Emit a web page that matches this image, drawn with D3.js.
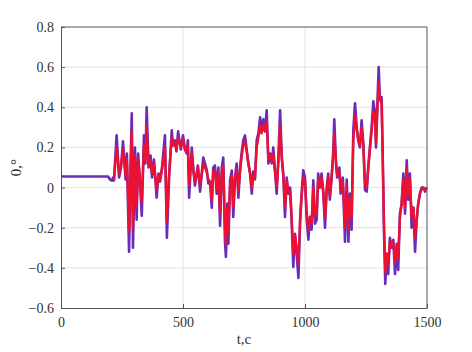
<!DOCTYPE html>
<html><head><meta charset="utf-8">
<script src="https://cdn.jsdelivr.net/npm/d3@7"></script>
<style>
html,body{margin:0;padding:0;background:#fff;}
svg text{font-family:"Liberation Serif","Times New Roman",serif;}
</style></head>
<body><svg id="c" width="472" height="352"></svg>
<script>
const xTicks = [0, 500, 1000, 1500];
const yTicks = [-0.6, -0.4, -0.2, 0, 0.2, 0.4, 0.6, 0.8];
const tVals = [0,193,201,209,213,217,228,238,246,254,265,270,279,285,290,295,303,310,316,324,331,340,346,351,359,367,373,381,392,400,406,414,426,434,443,454,459,467,473,480,491,500,508,515,520,525,536,543,549,561,570,583,597,604,611,618,624,631,638,645,652,659,665,672,676,682,686,693,700,706,713,720,727,734,740,747,754,761,768,775,782,788,795,802,809,816,822,829,836,843,850,857,864,870,877,884,891,898,905,911,918,925,932,939,945,952,959,966,973,980,986,993,1000,1007,1014,1020,1027,1034,1041,1048,1054,1061,1068,1075,1082,1089,1095,1102,1109,1116,1120,1127,1132,1141,1146,1155,1164,1171,1178,1184,1191,1198,1205,1212,1218,1225,1232,1239,1246,1253,1259,1266,1273,1280,1287,1291,1296,1302,1307,1314,1318,1324,1329,1335,1341,1348,1355,1362,1369,1376,1382,1389,1396,1403,1410,1417,1423,1430,1437,1444,1451,1458,1464,1471,1478,1485,1492,1499];
const purpleVals = [0.055,0.055,0.04,0.035,0.05,0.035,0.26,0.05,0.10,0.23,0.04,0.17,-0.32,0.10,0.37,-0.30,0.20,-0.16,0.17,0.02,-0.14,0.26,0.12,0.40,0.10,0.16,0.05,0.14,-0.05,0.07,0.03,0.10,0.26,-0.25,0.05,0.285,0.21,0.235,0.18,0.28,0.19,0.26,0.19,0.17,0.235,-0.05,0.20,0.08,0.01,0.11,-0.02,0.15,0.09,0.02,0.03,-0.10,0.10,0.11,-0.03,0.10,-0.19,0.10,0.15,-0.27,-0.345,-0.08,-0.28,0.036,0.085,-0.146,0.05,0.12,-0.05,0.10,0.17,0.235,0.26,0.19,0.12,0.07,-0.03,0.08,0.04,0.235,0.27,0.35,0.28,0.34,0.28,0.385,0.12,0.17,0.12,0.20,0.085,-0.03,0.15,0.385,0.15,0.07,-0.146,0.05,-0.03,0.0,-0.16,-0.395,-0.23,-0.33,-0.45,-0.16,-0.03,0.086,0.05,-0.16,-0.26,-0.146,-0.21,0.036,-0.18,-0.16,0.07,0.0,0.07,-0.03,-0.20,0.0,0.07,-0.06,0.05,0.185,0.34,0.12,0.05,0.10,-0.03,0.05,-0.27,0.04,-0.27,-0.03,-0.21,0.285,0.42,0.30,0.235,0.20,0.335,0.22,-0.013,-0.02,0.10,0.20,0.30,0.43,0.37,0.20,0.39,0.60,0.44,0.45,0.195,-0.23,-0.48,-0.33,-0.43,-0.25,-0.30,-0.26,-0.43,-0.28,-0.41,-0.13,-0.08,0.07,-0.13,0.136,-0.06,0.07,-0.20,-0.10,-0.32,-0.16,-0.08,-0.03,0.0,0.0,-0.02,0.0];
const redVals = [null,null,null,null,null,0.04,0.20,0.07,0.11,0.19,0.06,0.14,-0.22,0.09,0.28,-0.20,0.16,-0.10,0.14,0.04,-0.07,0.21,0.13,0.31,0.11,0.14,0.07,0.12,-0.01,0.06,0.04,0.09,0.20,-0.17,0.07,0.25,0.21,0.22,0.19,0.25,0.20,0.24,0.19,0.18,0.21,0.01,0.17,0.08,0.03,0.10,0.01,0.12,0.08,0.04,0.03,-0.06,0.08,0.09,-0.01,0.07,-0.13,0.07,0.11,-0.20,-0.28,-0.10,-0.22,0.01,0.06,-0.10,0.04,0.09,-0.02,0.08,0.15,0.21,0.23,0.18,0.12,0.07,0.0,0.06,0.05,0.20,0.25,0.31,0.27,0.31,0.28,0.33,0.14,0.16,0.13,0.17,0.08,0.0,0.13,0.31,0.14,0.06,-0.10,0.03,-0.02,-0.02,-0.14,-0.33,-0.24,-0.30,-0.38,-0.17,-0.05,0.05,0.03,-0.13,-0.21,-0.15,-0.18,0.0,-0.14,-0.13,0.04,0.0,0.05,-0.02,-0.15,-0.01,0.05,-0.04,0.05,0.16,0.27,0.13,0.06,0.08,-0.01,0.03,-0.20,0.0,-0.21,-0.05,-0.15,0.24,0.36,0.29,0.24,0.21,0.30,0.21,0.02,0.0,0.09,0.19,0.28,0.38,0.35,0.22,0.37,0.52,0.44,0.42,0.18,-0.20,-0.42,-0.33,-0.38,-0.27,-0.29,-0.27,-0.37,-0.29,-0.35,-0.15,-0.08,0.04,-0.10,0.10,-0.04,0.04,-0.15,-0.10,-0.25,-0.15,-0.08,-0.03,-0.01,0.0,-0.01,0.0];

const svg = d3.select("#c");
const L=61, R=427, T=27, B=308;
const x = d3.scaleLinear().domain([0,1500]).range([L,R]);
const y = d3.scaleLinear().domain([-0.6,0.8]).range([B,T]);

// grid
const g = svg.append("g");
g.selectAll("line.gx").data(xTicks.slice(1,-1)).join("line")
  .attr("x1",d=>x(d)).attr("x2",d=>x(d)).attr("y1",T).attr("y2",B)
  .attr("stroke","#e3e3e3").attr("stroke-width",1);
g.selectAll("line.gy").data(yTicks.slice(1,-1)).join("line")
  .attr("y1",d=>y(d)).attr("y2",d=>y(d)).attr("x1",L).attr("x2",R)
  .attr("stroke","#e3e3e3").attr("stroke-width",1);

const pts = tVals.map((t,i)=>({t, p:purpleVals[i], r:redVals[i]}));
const lineP = d3.line().x(d=>x(d.t)).y(d=>y(d.p));
const lineR = d3.line().defined(d=>d.r!==null).x(d=>x(d.t)).y(d=>y(d.r));
svg.append("path").attr("d",lineP(pts)).attr("fill","none")
  .attr("stroke","#6a2cb8").attr("stroke-width",2.6).attr("stroke-linejoin","round");
svg.append("path").attr("d",lineR(pts)).attr("fill","none")
  .attr("stroke","#ee1030").attr("stroke-width",2.4).attr("stroke-linejoin","round");

// axes
const ax = svg.append("g").attr("transform",`translate(0,${B})`)
  .call(d3.axisBottom(x).tickValues(xTicks).tickSizeInner(-4).tickSizeOuter(0).tickPadding(9).tickFormat(d3.format("d")));
const ay = svg.append("g").attr("transform",`translate(${L},0)`)
  .call(d3.axisLeft(y).tickValues(yTicks).tickSizeInner(-4).tickSizeOuter(0).tickPadding(7).tickFormat(d=>d===0?"0":d3.format(".1f")(d)));
[ax,ay].forEach(a=>{
  a.select(".domain").attr("stroke","#555");
  a.selectAll(".tick line").attr("stroke","#555");
  a.selectAll("text").attr("fill","#333").attr("font-size","14px")
   .attr("font-family","Liberation Serif, serif");
});
// top & right border
svg.append("line").attr("x1",L).attr("x2",R).attr("y1",T).attr("y2",T).attr("stroke","#555");
svg.append("line").attr("x1",R).attr("x2",R).attr("y1",T).attr("y2",B).attr("stroke","#555");

svg.append("text").attr("x",(L+R)/2).attr("y",344).attr("text-anchor","middle")
  .attr("font-size","15px").attr("fill","#333").text("t,c");
svg.append("text").attr("transform",`translate(21,${(T+B)/2}) rotate(-90)`)
  .attr("text-anchor","middle").attr("font-size","15px").attr("fill","#333").text("0,°");
</script></body></html>
